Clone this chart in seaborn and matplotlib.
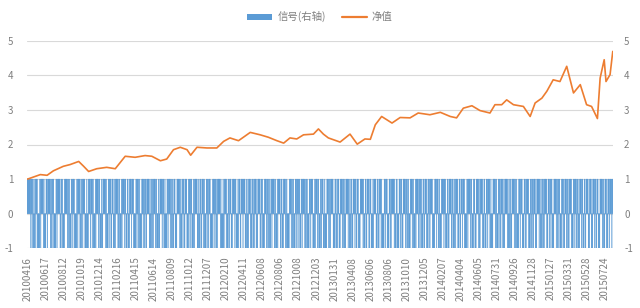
import numpy as np
import pandas as pd
import matplotlib
matplotlib.use("Agg")
import matplotlib.pyplot as plt
import seaborn as sns
from matplotlib.patches import Patch
from matplotlib.lines import Line2D

sns.set_style("white")
plt.rcParams['font.family'] = ['Noto Sans CJK SC', 'DejaVu Sans']

# ---------------- data ----------------
tick_labels = ["20100416", "20100617", "20100812", "20101019", "20101214", "20110216",
               "20110415", "20110614", "20110809", "20111012", "20111207", "20120210",
               "20120411", "20120608", "20120806", "20121008", "20121203", "20130131",
               "20130408", "20130606", "20130806", "20131010", "20131205", "20140207",
               "20140404", "20140605", "20140731", "20140926", "20141128", "20150127",
               "20150331", "20150528", "20150724"]
tick_step = 40
n_days = 1298

# trading signal per day: '1' -> +1, '0' -> -1
signal_rows = [
    "1111111101" "1011000110" "1110000011" "0111110100" "0011101111",
    "1100101110" "0000110111" "1110011010" "0001111110" "1100100011",
    "1011100000" "1101111001" "0110111100" "0010001111" "0111011000",
    "0101111101" "1000010011" "1111010000" "1110110011" "1000101111",
    "1001100001" "0111110110" "0011000111" "1011110000" "0110111001",
    "0000111011" "0110011111" "1000101100" "1111011000" "0100111110",
    "1110010000" "1101111011" "0010011100" "0011111101" "0001101100",
    "1111000101" "1011100010" "0111111000" "1001100111" "0110000111",
    "0101110000" "0111011100" "1011111101" "0000100111" "1010001101",
    "1100011111" "0110000101" "1100111101" "1110001001" "0111100011",
    "0011011100" "0111110011" "0100001111" "0110011000" "1101111100",
    "1000101111" "1001100011" "1101010000" "0111101100" "1000111011",
    "0111000110" "1111100101" "1000011101" "1110000101" "1110110000",
    "1101110001" "0000111100" "1101111100" "0011001011" "1000111101",
    "0110001111" "1011000110" "0011110110" "0111000011" "1111010001",
    "1001111001" "1100001011" "1110001100" "1111010000" "0111011100",
    "0011100111" "1110100011" "0000111011" "0001111101" "1001100001",
    "1110110000" "1011111001" "1101000110" "0111100011" "0101111100",
    "0001111011" "1001000011" "1110111000" "0110011111" "0011000110",
    "1111000110" "0111011110" "0000110111" "1101100001" "1100011111",
    "0100111110" "0011000111" "0111100100" "0011111011" "0000111001",
    "1101100011" "1111010001" "1000111110" "1100100001" "1101111000",
    "0111001111" "1000011011" "0011110001" "1111011000" "1101001111",
    "1000111011" "0110000111" "1101100111" "0000111010" "0111100110",
    "0111110000" "1110111001" "1000111101" "1000110011" "1110001111",
    "0001111011" "0011100001" "1111011000" "1110100111" "01111011",
]

# net value (净值) read at day indices
nav_day = [0, 3, 29, 44, 58, 80, 95, 114, 125, 136, 154, 176, 195, 217, 239, 261, 276,
           295, 309, 324, 339, 354, 362, 376, 398, 420, 435, 449, 468, 494, 516, 534,
           553, 568, 582, 597, 612, 634, 645, 656, 667, 693, 715, 731, 748, 760, 771,
           785, 808, 826, 848, 866, 892, 915, 937, 951, 966, 985, 1003, 1025, 1036,
           1051, 1062, 1077, 1099, 1114, 1125, 1140, 1151, 1165, 1180, 1195, 1210,
           1225, 1239, 1250, 1263, 1269, 1278, 1282, 1291, 1297]
nav_val = [1.00, 1.01, 1.13, 1.11, 1.24, 1.37, 1.42, 1.51, 1.37, 1.22, 1.30, 1.34, 1.30,
           1.66, 1.63, 1.68, 1.66, 1.53, 1.58, 1.85, 1.92, 1.85, 1.69, 1.92, 1.90, 1.90,
           2.09, 2.19, 2.11, 2.35, 2.28, 2.21, 2.11, 2.04, 2.19, 2.16, 2.28, 2.30, 2.45,
           2.30, 2.19, 2.07, 2.30, 2.01, 2.16, 2.15, 2.57, 2.81, 2.62, 2.78, 2.77, 2.91,
           2.86, 2.93, 2.81, 2.77, 3.05, 3.12, 2.98, 2.91, 3.15, 3.15, 3.29, 3.15, 3.10,
           2.81, 3.20, 3.34, 3.54, 3.87, 3.82, 4.26, 3.49, 3.73, 3.15, 3.10, 2.75, 3.92,
           4.45, 3.82, 4.02, 4.69]

yticks = [-1, 0, 1, 2, 3, 4, 5]

# ---------------- build ----------------
sig_str = "".join(signal_rows)
signal = [1 if c == "1" else -1 for c in sig_str]
bars = pd.DataFrame({"day": np.arange(len(signal)), "signal": signal})
nav = pd.DataFrame({"day": nav_day, "nav": nav_val})

BLUE = "#5B9BD5"
ORANGE = "#ED7D31"
GRID = "#D9D9D9"
TXT = "#7F7F7F"

fig = plt.figure(figsize=(6.4, 3.08), dpi=100)
ax = fig.add_axes([27 / 640, 1 - 248.3 / 308, (613 - 27) / 640, (248.3 - 40.7) / 308])

sns.barplot(data=bars, x="day", y="signal", color=BLUE, saturation=1, width=1.0,
            ax=ax, linewidth=0.25, edgecolor=BLUE, errorbar=None)
for p in ax.patches:
    p.set_snap(False)
    p.set_antialiased(True)
ax.set_ylim(-1, 5)
ax.set_xlim(-0.5, n_days - 0.5)
ax.set_yticks(yticks)
ax.set_yticklabels([str(v) for v in yticks], fontsize=7, color=TXT)
ax.grid(axis="y", color=GRID, linewidth=0.8)
ax.set_axisbelow(True)
ax.set_xticks([i * tick_step for i in range(len(tick_labels))])
ax.set_xticklabels(tick_labels, rotation=90, fontsize=7, color=TXT)
ax.tick_params(axis="both", length=0, pad=6)
ax.tick_params(axis="y", pad=10)
ax.set_xlabel("")
ax.set_ylabel("")
for s in ax.spines.values():
    s.set_visible(False)

ax2 = ax.twinx()
sns.lineplot(data=nav, x="day", y="nav", color=ORANGE, linewidth=1.2, ax=ax2)
ax2.set_ylim(-1, 5)
ax2.set_xlim(-0.5, n_days - 0.5)
ax2.set_yticks(yticks)
ax2.set_yticklabels([str(v) for v in yticks], fontsize=7, color=TXT)
ax2.tick_params(axis="y", length=0, pad=8)
ax2.set_ylabel("")
ax2.set_xlabel("")
for s in ax2.spines.values():
    s.set_visible(False)

handles = [Patch(facecolor=BLUE, edgecolor="none"),
           Line2D([0], [0], color=ORANGE, linewidth=1.6)]
fig.legend(handles, ["信号(右轴)", "净值"], loc="center", bbox_to_anchor=(0.5, 0.945),
           ncol=2, frameon=False, fontsize=7.5, handlelength=2.4, handleheight=0.5,
           columnspacing=1.5, handletextpad=0.5, labelcolor=TXT)

fig.savefig("out.png", dpi=100)
